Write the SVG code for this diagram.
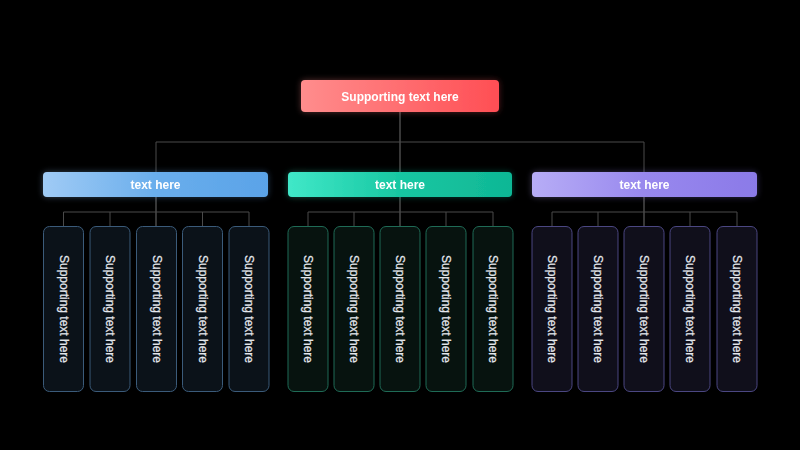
<svg xmlns="http://www.w3.org/2000/svg" width="800" height="450" viewBox="0 0 800 450">
<defs>
<linearGradient id="gRed" x1="0" y1="0" x2="1" y2="0"><stop offset="0" stop-color="#ff8d8d"/><stop offset="1" stop-color="#ff4e54"/></linearGradient>
<linearGradient id="gBlue" x1="0" y1="0" x2="1" y2="0"><stop offset="0" stop-color="#a0cbf5"/><stop offset="0.5" stop-color="#6aaeec"/><stop offset="1" stop-color="#5aa3e8"/></linearGradient>
<linearGradient id="gGreen" x1="0" y1="0" x2="1" y2="0"><stop offset="0" stop-color="#40e8c8"/><stop offset="0.5" stop-color="#18c7a2"/><stop offset="1" stop-color="#0fb795"/></linearGradient>
<linearGradient id="gPurple" x1="0" y1="0" x2="1" y2="0"><stop offset="0" stop-color="#b7adf6"/><stop offset="0.5" stop-color="#9888ee"/><stop offset="1" stop-color="#8b7ae8"/></linearGradient>
<filter id="glow" x="-20%" y="-50%" width="140%" height="200%"><feGaussianBlur in="SourceGraphic" stdDeviation="3" result="b"/><feComponentTransfer in="b" result="c"><feFuncA type="linear" slope="0.35"/></feComponentTransfer><feMerge><feMergeNode in="c"/><feMergeNode in="SourceGraphic"/></feMerge></filter>
</defs>
<style>
.hd{font-family:"Liberation Sans",Arial,sans-serif;font-weight:bold;font-size:12px;fill:#ffffff;text-anchor:middle;dominant-baseline:central}
.lf{font-family:"Liberation Sans",Arial,sans-serif;font-size:12px;fill:#e4e7ec;stroke:#e4e7ec;stroke-width:0.25;text-anchor:middle;dominant-baseline:central}
.ln{stroke:#4a4a4a;stroke-width:1;fill:none}
.lv{stroke:#6e6e6e;stroke-width:1;fill:none}
.lb{fill:#0b1219;stroke:#3b5b7a;stroke-width:1}
.lg{fill:#07130f;stroke:#1f6b56;stroke-width:1}
.lp{fill:#100f1b;stroke:#4b4782;stroke-width:1}
</style>
<rect width="800" height="450" fill="#000000"/>
<g id="connectors">
<path class="lv" d="M400 112V172"/>
<path class="ln" d="M156 142H644M156 142V172M644 142V172"/>
<path class="lv" d="M156 197V226M400 197V226M644 197V226"/>
<path class="ln" d="M63.5 212H249M63.5 212V226M110 212V226M202.5 212V226M249 212V226"/>
<path class="ln" d="M308 212H493M308 212V226M354 212V226M446 212V226M493 212V226"/>
<path class="ln" d="M552 212H737M552 212V226M598 212V226M690 212V226M737 212V226"/>
</g>
<g id="root" filter="url(#glow)"><rect x="301" y="80" width="198" height="32" rx="4" fill="url(#gRed)"/><text class="hd" x="400" y="96.5">Supporting text here</text></g>
<g id="mid-blue" filter="url(#glow)"><rect x="43" y="172" width="225" height="25" rx="4" fill="url(#gBlue)"/><text class="hd" x="155.5" y="184.5">text here</text></g>
<g id="mid-green" filter="url(#glow)"><rect x="288" y="172" width="224" height="25" rx="4" fill="url(#gGreen)"/><text class="hd" x="400" y="184.5">text here</text></g>
<g id="mid-purple" filter="url(#glow)"><rect x="532" y="172" width="225" height="25" rx="4" fill="url(#gPurple)"/><text class="hd" x="644.5" y="184.5">text here</text></g>
<g id="b1"><rect class="lb" x="43.5" y="226.5" width="40" height="165" rx="6"/><text class="lf" transform="translate(63.5 309) rotate(90)">Supporting text here</text></g>
<g id="b2"><rect class="lb" x="90" y="226.5" width="40" height="165" rx="6"/><text class="lf" transform="translate(110 309) rotate(90)">Supporting text here</text></g>
<g id="b3"><rect class="lb" x="136.5" y="226.5" width="40" height="165" rx="6"/><text class="lf" transform="translate(156.5 309) rotate(90)">Supporting text here</text></g>
<g id="b4"><rect class="lb" x="182.5" y="226.5" width="40" height="165" rx="6"/><text class="lf" transform="translate(202.5 309) rotate(90)">Supporting text here</text></g>
<g id="b5"><rect class="lb" x="229" y="226.5" width="40" height="165" rx="6"/><text class="lf" transform="translate(249 309) rotate(90)">Supporting text here</text></g>
<g id="g1"><rect class="lg" x="288" y="226.5" width="40" height="165" rx="6"/><text class="lf" transform="translate(308 309) rotate(90)">Supporting text here</text></g>
<g id="g2"><rect class="lg" x="334" y="226.5" width="40" height="165" rx="6"/><text class="lf" transform="translate(354 309) rotate(90)">Supporting text here</text></g>
<g id="g3"><rect class="lg" x="380" y="226.5" width="40" height="165" rx="6"/><text class="lf" transform="translate(400 309) rotate(90)">Supporting text here</text></g>
<g id="g4"><rect class="lg" x="426" y="226.5" width="40" height="165" rx="6"/><text class="lf" transform="translate(446 309) rotate(90)">Supporting text here</text></g>
<g id="g5"><rect class="lg" x="473" y="226.5" width="40" height="165" rx="6"/><text class="lf" transform="translate(493 309) rotate(90)">Supporting text here</text></g>
<g id="p1"><rect class="lp" x="532" y="226.5" width="40" height="165" rx="6"/><text class="lf" transform="translate(552 309) rotate(90)">Supporting text here</text></g>
<g id="p2"><rect class="lp" x="578" y="226.5" width="40" height="165" rx="6"/><text class="lf" transform="translate(598 309) rotate(90)">Supporting text here</text></g>
<g id="p3"><rect class="lp" x="624" y="226.5" width="40" height="165" rx="6"/><text class="lf" transform="translate(644 309) rotate(90)">Supporting text here</text></g>
<g id="p4"><rect class="lp" x="670" y="226.5" width="40" height="165" rx="6"/><text class="lf" transform="translate(690 309) rotate(90)">Supporting text here</text></g>
<g id="p5"><rect class="lp" x="717" y="226.5" width="40" height="165" rx="6"/><text class="lf" transform="translate(737 309) rotate(90)">Supporting text here</text></g>
</svg>
